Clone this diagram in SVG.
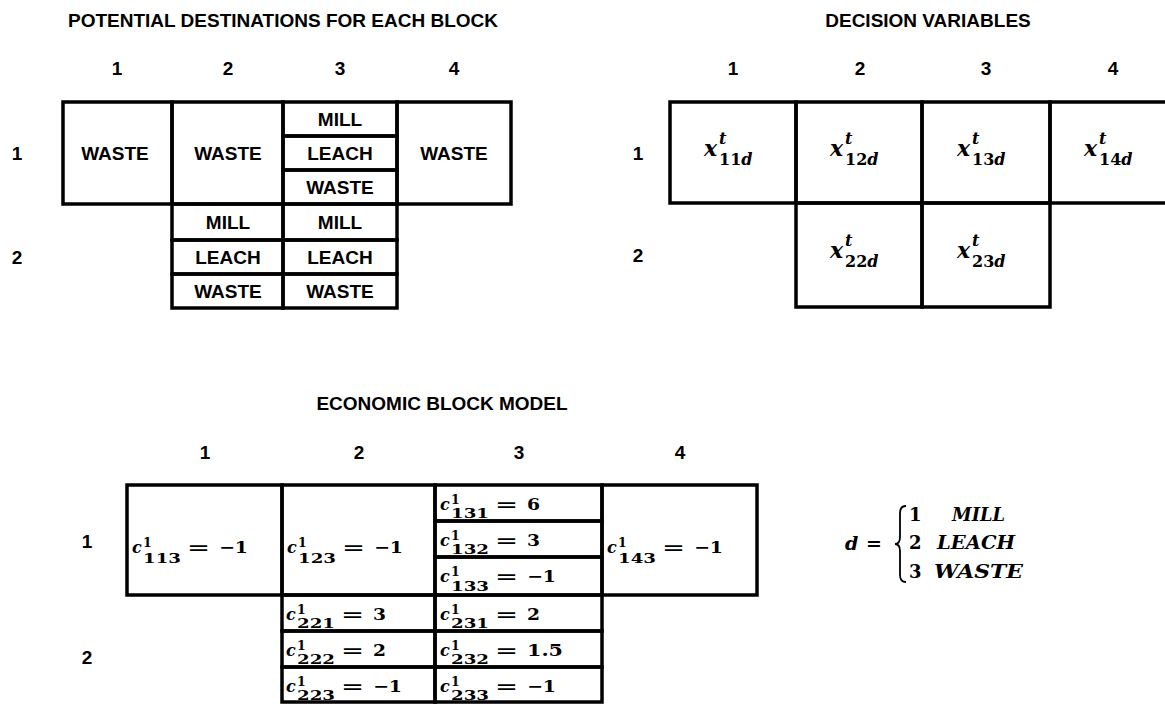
<svg xmlns="http://www.w3.org/2000/svg" width="1165" height="704" viewBox="0 0 1165 704">
<style>
.bg{fill:#fff}
.cell{fill:none;stroke:#000;stroke-width:3.5}
.t{font-family:"Liberation Sans",Arial,sans-serif;font-weight:bold;font-size:19px;fill:#000}
.c{text-anchor:middle}
.m{font-family:"DejaVu Serif","Liberation Serif",serif;font-weight:bold;font-size:16px;fill:#000}
.mx{font-family:"DejaVu Serif","Liberation Serif",serif;font-weight:bold;font-size:22px;fill:#000}
.it{font-style:italic}
.s{font-size:12.5px}
.s2{font-size:16px}
.br{fill:none;stroke:#000;stroke-width:1.8}
</style>
<rect class="bg" x="0" y="0" width="1165" height="704"/>

<!-- POTENTIAL DESTINATIONS -->
<g id="dest-table">
<text class="t c" x="283" y="27">POTENTIAL DESTINATIONS FOR EACH BLOCK</text>
<text class="t c" x="117" y="75">1</text>
<text class="t c" x="228" y="75">2</text>
<text class="t c" x="340" y="75">3</text>
<text class="t c" x="454" y="75">4</text>
<text class="t c" x="17" y="160">1</text>
<text class="t c" x="17" y="264">2</text>
<g id="d-11"><rect class="cell" x="63" y="102" width="109" height="102"/><text class="t c" x="115" y="160">WASTE</text></g>
<g id="d-12"><rect class="cell" x="172" y="102" width="111" height="102"/><text class="t c" x="228" y="160">WASTE</text></g>
<g id="d-13">
<rect class="cell" x="283" y="102" width="114" height="34"/><text class="t c" x="340" y="126">MILL</text>
<rect class="cell" x="283" y="136" width="114" height="34"/><text class="t c" x="340" y="160">LEACH</text>
<rect class="cell" x="283" y="170" width="114" height="34"/><text class="t c" x="340" y="194">WASTE</text>
</g>
<g id="d-14"><rect class="cell" x="397" y="102" width="114" height="102"/><text class="t c" x="454" y="160">WASTE</text></g>
<g id="d-22">
<rect class="cell" x="172" y="204" width="111" height="36"/><text class="t c" x="228" y="229">MILL</text>
<rect class="cell" x="172" y="240" width="111" height="34"/><text class="t c" x="228" y="264">LEACH</text>
<rect class="cell" x="172" y="274" width="111" height="34"/><text class="t c" x="228" y="298">WASTE</text>
</g>
<g id="d-23">
<rect class="cell" x="283" y="204" width="114" height="36"/><text class="t c" x="340" y="229">MILL</text>
<rect class="cell" x="283" y="240" width="114" height="34"/><text class="t c" x="340" y="264">LEACH</text>
<rect class="cell" x="283" y="274" width="114" height="34"/><text class="t c" x="340" y="298">WASTE</text>
</g>
</g>

<!-- DECISION VARIABLES -->
<g id="var-table">
<text class="t c" x="928" y="27">DECISION VARIABLES</text>
<text class="t c" x="733" y="75">1</text>
<text class="t c" x="860" y="75">2</text>
<text class="t c" x="986" y="75">3</text>
<text class="t c" x="1113" y="75">4</text>
<text class="t c" x="638" y="160">1</text>
<text class="t c" x="638" y="262">2</text>
<g id="x-11"><rect class="cell" x="670" y="102" width="126" height="101"/>
<text class="mx"><tspan class="it" x="704" y="156">x</tspan><tspan class="s2 it" x="719" y="144">t</tspan><tspan class="s2" x="719" y="165">11</tspan><tspan class="s2 it">d</tspan></text></g>
<g id="x-12"><rect class="cell" x="796" y="102" width="126" height="101"/>
<text class="mx"><tspan class="it" x="830" y="156">x</tspan><tspan class="s2 it" x="845" y="144">t</tspan><tspan class="s2" x="845" y="165">12</tspan><tspan class="s2 it">d</tspan></text></g>
<g id="x-13"><rect class="cell" x="922" y="102" width="128" height="101"/>
<text class="mx"><tspan class="it" x="957" y="156">x</tspan><tspan class="s2 it" x="972" y="144">t</tspan><tspan class="s2" x="972" y="165">13</tspan><tspan class="s2 it">d</tspan></text></g>
<g id="x-14"><rect class="cell" x="1050" y="102" width="130" height="101"/>
<text class="mx"><tspan class="it" x="1084" y="156">x</tspan><tspan class="s2 it" x="1099" y="144">t</tspan><tspan class="s2" x="1099" y="165">14</tspan><tspan class="s2 it">d</tspan></text></g>
<g id="x-22"><rect class="cell" x="796" y="203" width="126" height="104"/>
<text class="mx"><tspan class="it" x="830" y="258">x</tspan><tspan class="s2 it" x="845" y="246">t</tspan><tspan class="s2" x="845" y="267">22</tspan><tspan class="s2 it">d</tspan></text></g>
<g id="x-23"><rect class="cell" x="922" y="203" width="128" height="104"/>
<text class="mx"><tspan class="it" x="957" y="258">x</tspan><tspan class="s2 it" x="972" y="246">t</tspan><tspan class="s2" x="972" y="267">23</tspan><tspan class="s2 it">d</tspan></text></g>
</g>

<!-- ECONOMIC BLOCK MODEL -->
<g id="eco-table">
<text class="t c" x="442" y="410">ECONOMIC BLOCK MODEL</text>
<text class="t c" x="205" y="459">1</text>
<text class="t c" x="359" y="459">2</text>
<text class="t c" x="519" y="459">3</text>
<text class="t c" x="680" y="459">4</text>
<text class="t c" x="87" y="548">1</text>
<text class="t c" x="87" y="664">2</text>
<g id="c-11"><rect class="cell" x="127" y="485" width="155" height="110"/>
<text class="m"><tspan class="it" x="132" y="553">c</tspan><tspan class="s" x="143" y="547">1</tspan><tspan class="s" x="143" y="563" textLength="38" lengthAdjust="spacingAndGlyphs">113</tspan><tspan x="187" y="553" textLength="23" lengthAdjust="spacingAndGlyphs">=</tspan><tspan x="219" y="553" textLength="29" lengthAdjust="spacingAndGlyphs">−1</tspan></text></g>
<g id="c-12"><rect class="cell" x="282" y="485" width="153" height="110"/>
<text class="m"><tspan class="it" x="287" y="553">c</tspan><tspan class="s" x="298" y="547">1</tspan><tspan class="s" x="298" y="563" textLength="38" lengthAdjust="spacingAndGlyphs">123</tspan><tspan x="342" y="553" textLength="23" lengthAdjust="spacingAndGlyphs">=</tspan><tspan x="374" y="553" textLength="29" lengthAdjust="spacingAndGlyphs">−1</tspan></text></g>
<g id="c-13">
<text class="m"><tspan class="it" x="440" y="510">c</tspan><tspan class="s" x="451" y="504">1</tspan><tspan class="s" x="451" y="518" textLength="38" lengthAdjust="spacingAndGlyphs">131</tspan><tspan x="495" y="510" textLength="23" lengthAdjust="spacingAndGlyphs">=</tspan><tspan x="527" y="510" textLength="13" lengthAdjust="spacingAndGlyphs">6</tspan></text>
<text class="m"><tspan class="it" x="440" y="546">c</tspan><tspan class="s" x="451" y="540">1</tspan><tspan class="s" x="451" y="554" textLength="38" lengthAdjust="spacingAndGlyphs">132</tspan><tspan x="495" y="546" textLength="23" lengthAdjust="spacingAndGlyphs">=</tspan><tspan x="527" y="546" textLength="13" lengthAdjust="spacingAndGlyphs">3</tspan></text>
<text class="m"><tspan class="it" x="440" y="582">c</tspan><tspan class="s" x="451" y="576">1</tspan><tspan class="s" x="451" y="591" textLength="38" lengthAdjust="spacingAndGlyphs">133</tspan><tspan x="495" y="582" textLength="23" lengthAdjust="spacingAndGlyphs">=</tspan><tspan x="527" y="582" textLength="29" lengthAdjust="spacingAndGlyphs">−1</tspan></text>
<rect class="cell" x="435" y="485" width="167" height="36"/>
<rect class="cell" x="435" y="521" width="167" height="36"/>
<rect class="cell" x="435" y="557" width="167" height="38"/>
</g>
<g id="c-14"><rect class="cell" x="602" y="485" width="155" height="110"/>
<text class="m"><tspan class="it" x="607" y="553">c</tspan><tspan class="s" x="618" y="547">1</tspan><tspan class="s" x="618" y="563" textLength="38" lengthAdjust="spacingAndGlyphs">143</tspan><tspan x="662" y="553" textLength="23" lengthAdjust="spacingAndGlyphs">=</tspan><tspan x="694" y="553" textLength="29" lengthAdjust="spacingAndGlyphs">−1</tspan></text></g>
<g id="c-22">
<text class="m"><tspan class="it" x="286" y="620">c</tspan><tspan class="s" x="297" y="614">1</tspan><tspan class="s" x="297" y="628" textLength="38" lengthAdjust="spacingAndGlyphs">221</tspan><tspan x="341" y="620" textLength="23" lengthAdjust="spacingAndGlyphs">=</tspan><tspan x="373" y="620" textLength="13" lengthAdjust="spacingAndGlyphs">3</tspan></text>
<text class="m"><tspan class="it" x="286" y="656">c</tspan><tspan class="s" x="297" y="650">1</tspan><tspan class="s" x="297" y="664" textLength="38" lengthAdjust="spacingAndGlyphs">222</tspan><tspan x="341" y="656" textLength="23" lengthAdjust="spacingAndGlyphs">=</tspan><tspan x="373" y="656" textLength="13" lengthAdjust="spacingAndGlyphs">2</tspan></text>
<text class="m"><tspan class="it" x="286" y="692">c</tspan><tspan class="s" x="297" y="686">1</tspan><tspan class="s" x="297" y="700" textLength="38" lengthAdjust="spacingAndGlyphs">223</tspan><tspan x="341" y="692" textLength="23" lengthAdjust="spacingAndGlyphs">=</tspan><tspan x="373" y="692" textLength="29" lengthAdjust="spacingAndGlyphs">−1</tspan></text>
<rect class="cell" x="282" y="595" width="153" height="36"/>
<rect class="cell" x="282" y="631" width="153" height="36"/>
<rect class="cell" x="282" y="667" width="153" height="35"/>
</g>
<g id="c-23">
<text class="m"><tspan class="it" x="440" y="620">c</tspan><tspan class="s" x="451" y="614">1</tspan><tspan class="s" x="451" y="628" textLength="38" lengthAdjust="spacingAndGlyphs">231</tspan><tspan x="495" y="620" textLength="23" lengthAdjust="spacingAndGlyphs">=</tspan><tspan x="527" y="620" textLength="13" lengthAdjust="spacingAndGlyphs">2</tspan></text>
<text class="m"><tspan class="it" x="440" y="656">c</tspan><tspan class="s" x="451" y="650">1</tspan><tspan class="s" x="451" y="664" textLength="38" lengthAdjust="spacingAndGlyphs">232</tspan><tspan x="495" y="656" textLength="23" lengthAdjust="spacingAndGlyphs">=</tspan><tspan x="527" y="656" textLength="36" lengthAdjust="spacingAndGlyphs">1.5</tspan></text>
<text class="m"><tspan class="it" x="440" y="692">c</tspan><tspan class="s" x="451" y="686">1</tspan><tspan class="s" x="451" y="700" textLength="38" lengthAdjust="spacingAndGlyphs">233</tspan><tspan x="495" y="692" textLength="23" lengthAdjust="spacingAndGlyphs">=</tspan><tspan x="527" y="692" textLength="29" lengthAdjust="spacingAndGlyphs">−1</tspan></text>
<rect class="cell" x="435" y="595" width="167" height="36"/>
<rect class="cell" x="435" y="631" width="167" height="36"/>
<rect class="cell" x="435" y="667" width="167" height="35"/>
</g>
</g>

<!-- destination index definition -->
<g id="d-def">
<text class="mx" style="font-size:19px"><tspan class="it" x="845" y="550">d</tspan><tspan x="866" y="550">=</tspan></text>
<path class="br" d="M906,506 Q900,506 900,513 L900,537 Q900,544 895,544 Q900,544 900,551 L900,575 Q900,582 906,582"/>
<text class="mx" style="font-size:18px">
<tspan x="909" y="521">1</tspan><tspan class="it" x="952" y="521" textLength="53" lengthAdjust="spacingAndGlyphs">MILL</tspan>
<tspan x="909" y="549">2</tspan><tspan class="it" x="937" y="549" textLength="78" lengthAdjust="spacingAndGlyphs">LEACH</tspan>
<tspan x="909" y="578">3</tspan><tspan class="it" x="934" y="578" textLength="89" lengthAdjust="spacingAndGlyphs">WASTE</tspan>
</text>
</g>
</svg>
